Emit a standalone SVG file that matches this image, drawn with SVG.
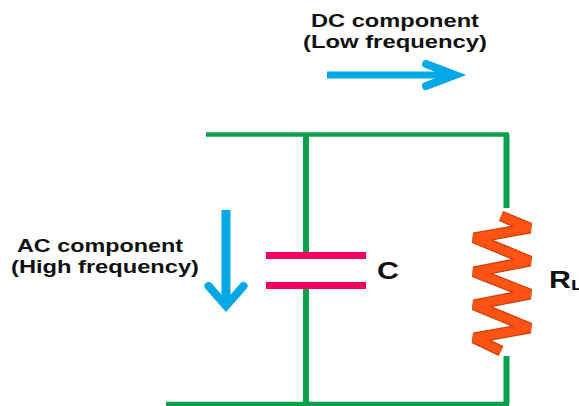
<svg xmlns="http://www.w3.org/2000/svg" width="579" height="406" viewBox="0 0 579 406">
<style>
.w{fill:none;stroke:#0ca04e;stroke-width:4.500}
.v{fill:none;stroke:#0ca04e;stroke-width:6}
.a{fill:none;stroke:#00a8e6}
.c{fill:none;stroke:#f4005f;stroke-width:7}
.r{fill:none;stroke-linejoin:bevel}
text{font-family:"Liberation Sans",Arial,sans-serif;fill:#111;font-weight:bold}
.t{font-size:17.500px}
</style>
<rect width="579" height="406" fill="#fff"/>
<g id="connectors">
<path class="w" d="M206 134.500H509M166 404H509"/>
<path class="v" d="M506.500 134.500V208M306 134.500V252M306 289V404M506.500 356V404"/>
</g>
<g id="capacitor">
<path class="c" d="M266 255.500H366M266 285.500H366"/>
<text x="377" y="279" font-size="23" textLength="22" lengthAdjust="spacingAndGlyphs">C</text>
</g>
<g id="resistor">
<path class="r" d="M501 216L530 228L474 238L530 261L474 272L530 294L474 305L530 328L474 338L501 351" stroke="#c9400f" stroke-width="11"/>
<path class="r" d="M501 216L530 228L474 238L530 261L474 272L530 294L474 305L530 328L474 338L501 351" stroke="#ff5314" stroke-width="8.500"/>
<text x="549" y="288" font-size="23" textLength="34" lengthAdjust="spacingAndGlyphs">R<tspan font-size="15" dy="2">L</tspan></text>
</g>
<g id="dc-label">
<text class="t" x="311" y="27" textLength="168" lengthAdjust="spacingAndGlyphs">DC component</text>
<text class="t" x="303" y="48" textLength="184" lengthAdjust="spacingAndGlyphs">(Low frequency)</text>
<path class="a" stroke-width="7" d="M327 75H455"/>
<path class="a" stroke-width="8" d="M426 64L455 75L426 86" stroke-linecap="round"/>
</g>
<g id="ac-label">
<text class="t" x="17" y="252" textLength="166" lengthAdjust="spacingAndGlyphs">AC component</text>
<text class="t" x="11" y="273" textLength="188" lengthAdjust="spacingAndGlyphs">(High frequency)</text>
<path class="a" stroke-width="9" d="M226 210V304"/>
<path class="a" stroke-width="8" d="M208.500 286L226 306L243.500 286" stroke-linecap="round"/>
</g>
</svg>
